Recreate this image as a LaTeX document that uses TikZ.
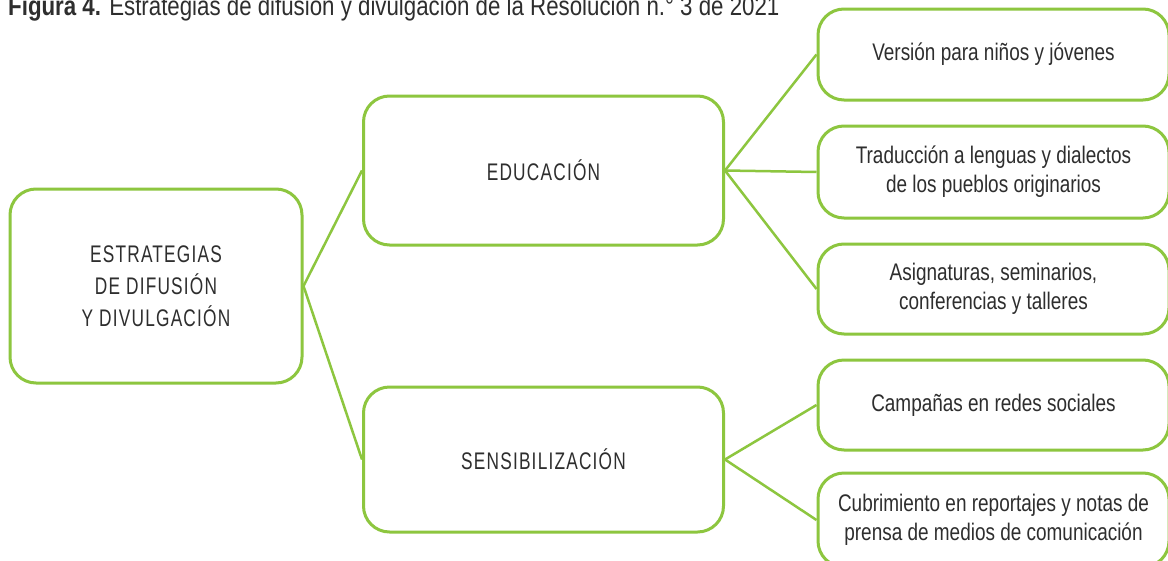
\documentclass[tikz,border=0pt]{standalone}
\usepackage{fontspec}
\setmainfont{Liberation Sans}[FakeStretch=0.79]
\newfontfamily\capsfont{Liberation Sans}[FakeStretch=0.72,LetterSpace=5]
\newfontfamily\titlefont{Liberation Sans}[FakeStretch=0.825]
\definecolor{lgreen}{HTML}{8DC63F}
\definecolor{txt}{HTML}{2E2E2E}
\begin{document}
\begin{tikzpicture}[x=1pt,y=-1pt,
  box/.style={draw=lgreen, line width=3pt, rounded corners=26pt, fill=white, text=txt, align=center, inner sep=0pt},
  leafbox/.style={box, minimum width=351pt},
  midbox/.style={box, minimum width=360pt},
  link/.style={draw=lgreen, line width=2.5pt},
  body/.style={font=\fontsize{24}{29}\selectfont},
  caps/.style={font=\capsfont\fontsize{24}{32}\selectfont}]
\useasboundingbox (0,0) rectangle (1168,560);
\fill[white] (0,0) rectangle (1168,560);

\node[anchor=base west, text=txt, inner sep=0pt] (title) at (8,15)
  {\titlefont\fontsize{27}{30}\selectfont\textbf{Figura 4.} Estrategias de difusión y divulgación de la Resolución n.° 3 de 2021};

\node[box, caps, minimum width=292pt, minimum height=194pt] (root) at (156,286)
  {ESTRATEGIAS\\DE DIFUSIÓN\\Y DIVULGACIÓN};

\node[midbox, caps, minimum height=149pt] (edu) at (543.5,170.5) {EDUCACIÓN};
\node[midbox, caps, minimum height=145pt] (sens) at (543.5,459.5) {SENSIBILIZACIÓN};

\node[leafbox, body, minimum height=91pt] (b1) at (993.5,54.5) {Versión para niños y jóvenes};
\node[leafbox, body, minimum height=92pt] (b2) at (993.5,172) {Traducción a lenguas y dialectos\\de los pueblos originarios};
\node[leafbox, body, minimum height=90pt] (b3) at (993.5,289) {Asignaturas, seminarios,\\conferencias y talleres};
\node[leafbox, body, minimum height=90pt] (b4) at (993.5,405) {Campañas en redes sociales};
\node[leafbox, body, minimum height=94pt] (b5) at (993.5,520) {Cubrimiento en reportajes y notas de\\prensa de medios de comunicación};

\draw[link] (root.east) -- (edu.west);
\draw[link] (root.east) -- (sens.west);
\draw[link] (edu.east) -- (b1.west);
\draw[link] (edu.east) -- (b2.west);
\draw[link] (edu.east) -- (b3.west);
\draw[link] (sens.east) -- (b4.west);
\draw[link] (sens.east) -- (b5.west);
\end{tikzpicture}
\end{document}
